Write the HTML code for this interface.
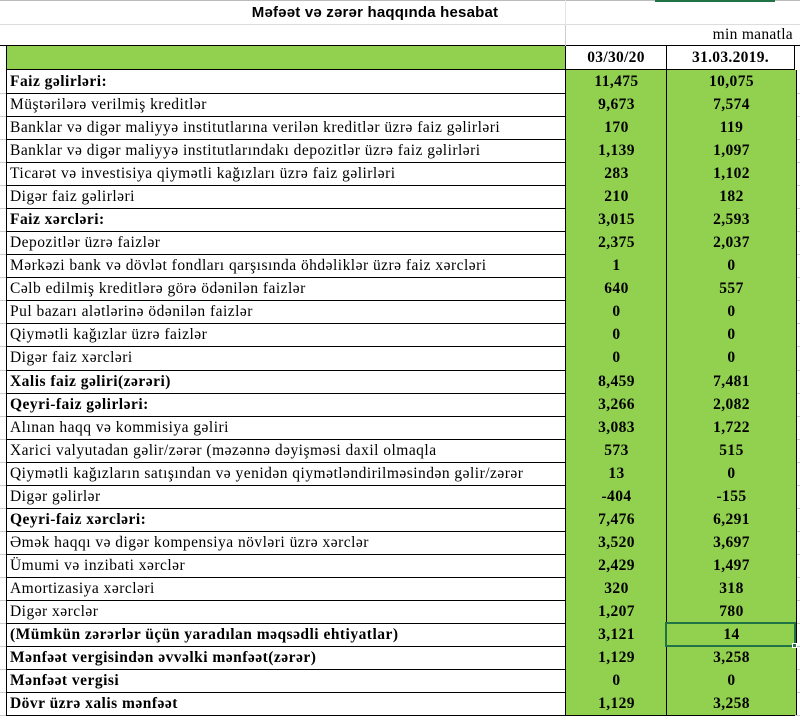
<!DOCTYPE html>
<html><head><meta charset="utf-8"><style>
body{margin:0;width:800px;height:721px;background:#fff;position:relative;overflow:hidden;font-family:"Liberation Serif",serif;}
.a{position:absolute;box-sizing:border-box;}
.r{position:absolute;left:0;width:800px;height:23.04px;}
.l{position:absolute;left:6px;width:559px;height:100%;border-left:1px solid #000;border-bottom:1px solid #000;padding-left:3px;font-size:15.5px;letter-spacing:0.48px;line-height:23px;white-space:nowrap;overflow:hidden;color:#000;}
.c{position:absolute;height:100%;background:#92d050;border-left:1px solid #000;border-bottom:1px solid #000;text-align:center;font-weight:bold;font-size:15.5px;letter-spacing:0.4px;line-height:23px;}
.c1{left:565px;width:101px;}
.c2{left:666px;width:129px;border-right:1px solid #000;}
.b{font-weight:bold;}
.g{position:absolute;left:0;width:6px;height:100%;border-bottom:1px solid #ccc;}
.g2{position:absolute;left:795px;width:5px;height:100%;border-bottom:1px solid #ccc;}
</style></head><body>
<div class="a" style="left:0;top:0;width:800px;height:1px;background:#bbb"></div>
<div class="a" style="left:655px;top:0;width:120px;height:2px;background:#217346"></div>
<div class="a" style="left:0;top:0;width:800px;height:25px;border-bottom:1px solid #ddd;text-align:center;font-family:'Liberation Sans',sans-serif;font-weight:bold;font-size:15px;letter-spacing:0.2px;line-height:26px;padding-right:50px">Məfəət və zərər haqqında hesabat</div>
<div class="a" style="left:565px;top:0;width:1px;height:25px;background:#e4e4e4"></div>
<div class="a" style="left:0;top:25px;width:800px;height:21px;border-bottom:1px solid #000"></div>
<div class="a" style="left:565px;top:25px;width:1px;height:21px;background:#ccc"></div>
<div class="a" style="left:565px;top:25px;width:230px;height:21px;text-align:right;font-size:15.5px;letter-spacing:0.3px;line-height:20px;padding-right:2px">min manatla</div>
<div class="a" style="left:6px;top:46px;width:559px;height:24px;background:#92d050;border-left:1px solid #000;border-bottom:1px solid #000"></div>
<div class="a" style="left:565px;top:46px;width:101px;height:24px;border-left:1px solid #000;border-bottom:1px solid #000;text-align:center;font-weight:bold;font-size:15.5px;letter-spacing:0.3px;line-height:24px">03/30/20</div>
<div class="a" style="left:666px;top:46px;width:129px;height:24px;border-left:1px solid #000;border-right:1px solid #000;border-bottom:1px solid #000;text-align:center;font-weight:bold;font-size:15.5px;letter-spacing:0.3px;line-height:24px">31.03.2019.</div>
<div id="rows"></div>
<script>
var d=[["Faiz gəlirləri:","11,475","10,075",1],["Müştərilərə verilmiş kreditlər","9,673","7,574"],["Banklar və digər maliyyə institutlarına verilən kreditlər üzrə faiz gəlirləri","170","119"],["Banklar və digər maliyyə institutlarındakı depozitlər üzrə faiz gəlirləri","1,139","1,097"],["Ticarət və investisiya qiymətli kağızları üzrə faiz gəlirləri","283","1,102"],["Digər faiz gəlirləri","210","182"],["Faiz xərcləri:","3,015","2,593",1],["Depozitlər üzrə faizlər","2,375","2,037"],["Mərkəzi bank və dövlət fondları qarşısında öhdəliklər üzrə faiz xərcləri","1","0"],["Cəlb edilmiş kreditlərə görə ödənilən faizlər","640","557"],["Pul bazarı alətlərinə ödənilən faizlər","0","0"],["Qiymətli kağızlar üzrə faizlər","0","0"],["Digər faiz xərcləri","0","0"],["Xalis faiz gəliri(zərəri)","8,459","7,481",1],["Qeyri-faiz gəlirləri:","3,266","2,082",1],["Alınan haqq və kommisiya gəliri","3,083","1,722"],["Xarici valyutadan gəlir/zərər (məzənnə dəyişməsi daxil olmaqla","573","515"],["Qiymətli kağızların satışından və yenidən qiymətləndirilməsindən gəlir/zərər","13","0"],["Digər gəlirlər","-404","-155"],["Qeyri-faiz xərcləri:","7,476","6,291",1],["Əmək haqqı və digər kompensiya növləri üzrə xərclər","3,520","3,697"],["Ümumi və inzibati xərclər","2,429","1,497"],["Amortizasiya xərcləri","320","318"],["Digər xərclər","1,207","780"],["(Mümkün zərərlər üçün yaradılan məqsədli ehtiyatlar)","3,121","14",1],["Mənfəət vergisindən əvvəlki mənfəət(zərər)","1,129","3,258",1],["Mənfəət vergisi","0","0",1],["Dövr üzrə xalis mənfəət","1,129","3,258",1]];
var h="";
d.forEach(function(r,i){var t=70+i*23.04;
h+='<div class="r" style="top:'+t+'px"><div class="g"></div><div class="l'+(r[3]?' b':'')+'">'+r[0]+'</div><div class="c c1">'+r[1]+'</div><div class="c c2">'+r[2]+'</div><div class="g2"></div></div>';});
h+='<div class="a" style="left:665px;top:'+(70+24*23.04-1)+'px;width:131px;height:25px;border:2px solid #217346"></div>';
h+='<div class="a" style="left:792px;top:'+(70+25*23.04-3)+'px;width:5px;height:5px;background:#217346;border:1px solid #fff"></div>';
document.getElementById("rows").innerHTML=h;
</script>
</body></html>
